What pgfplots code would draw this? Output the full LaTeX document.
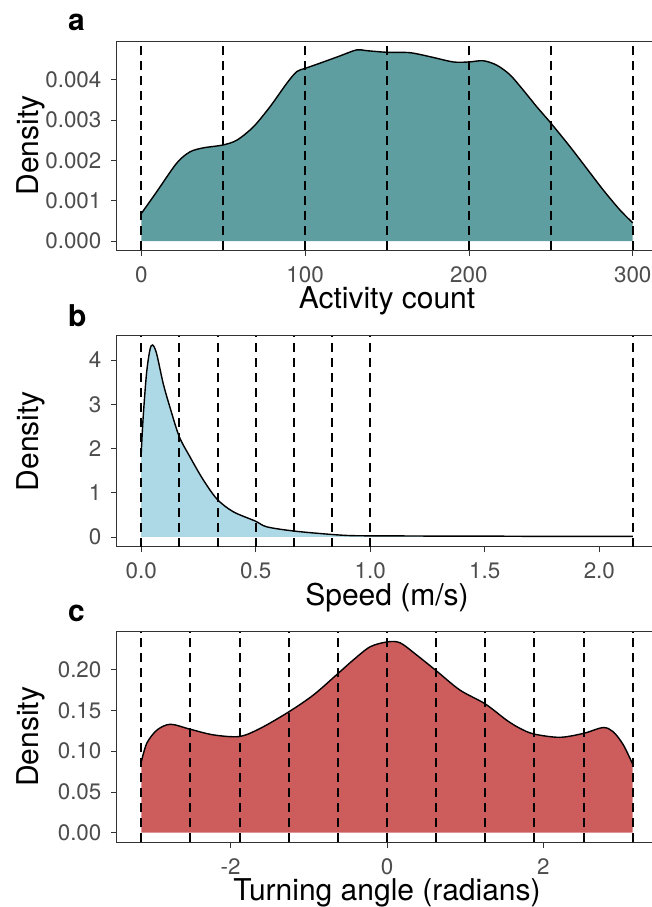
\documentclass[border=0pt]{standalone}
\usepackage{fontspec}
\setmainfont{TeX Gyre Heros}
\usepackage{pgfplots}
\pgfplotsset{compat=1.18}
\definecolor{cadet}{HTML}{5F9EA0}
\definecolor{lblue}{HTML}{ADD8E6}
\definecolor{ired}{HTML}{CD5C5C}
\definecolor{tickgray}{HTML}{4D4D4D}
\definecolor{bordergray}{HTML}{333333}
\pgfplotsset{
  panel/.style={
    scale only axis, width=540.6pt, height=210pt,
    anchor=south west,
    axis line style={draw=bordergray, line width=0.8pt},
    tick pos=left, tick align=outside, major tick length=5.7pt,
    major tick style={draw=bordergray, line width=0.8pt},
    tick label style={font=\fontsize{22.4}{26}\selectfont, text=tickgray, inner sep=0pt},
    xticklabel style={anchor=base, yshift=-26.5pt},
    yticklabel style={anchor=east, xshift=-9.4pt},
    xticklabel shift=0pt, yticklabel shift=0pt,
    label style={font=\fontsize{30}{34}\selectfont, inner sep=0pt},
    ylabel={Density},
    ylabel style={at={(axis description cs:-0.1448,0.5)}, anchor=base, rotate=0},
    xlabel style={at={(axis description cs:0.5,0)}, anchor=base, yshift=-58.5pt},
    /pgf/number format/assume math mode=true,
    scaled ticks=false,
    no markers,
  },
  vl/.style={black, line width=2pt, dash pattern=on 9pt off 6pt},
  dens/.style={black, line width=1.4pt, smooth, tension=0.5},
  densfill/.style={draw=none, smooth, tension=0.5},
}
\begin{document}
\begin{tikzpicture}
\useasboundingbox (0,0) rectangle (652pt,907pt);
% ---------------- panel a
\begin{axis}[panel, at={(116.7pt,656.7pt)}, height=209.3pt,
  xmin=-15, xmax=315, ymin=-0.00023, ymax=0.00496,
  xtick={0,100,200,300}, xticklabels={0,100,200,300},
  ytick={0,0.001,0.002,0.003,0.004},
  yticklabels={0.000,0.001,0.002,0.003,0.004},
  xlabel={Activity count}]
\addplot[densfill, fill=cadet] coordinates {
(0,0.00068) (9.4,0.00122) (21.6,0.00193) (29.7,0.00221) (37.9,0.00231)
(49.7,0.00238) (58.3,0.00250) (68.4,0.00283) (78.6,0.00333) (88.8,0.00391)
(94.9,0.00420) (100,0.00428) (109.1,0.00441) (121.3,0.00459) (131.5,0.00474)
(137.6,0.00472) (149.8,0.00468) (164,0.00467) (176.3,0.00457) (190.5,0.00444)
(200,0.00444) (208.8,0.00447) (217,0.00436) (225.1,0.00412) (233.2,0.00374)
(241.4,0.00333) (250.1,0.00292) (261.7,0.00234) (271.9,0.00180) (282.1,0.00126)
(292.2,0.00077) (300,0.00045)} \closedcycle;
\addplot[dens] coordinates {
(0,0.00068) (9.4,0.00122) (21.6,0.00193) (29.7,0.00221) (37.9,0.00231)
(49.7,0.00238) (58.3,0.00250) (68.4,0.00283) (78.6,0.00333) (88.8,0.00391)
(94.9,0.00420) (100,0.00428) (109.1,0.00441) (121.3,0.00459) (131.5,0.00474)
(137.6,0.00472) (149.8,0.00468) (164,0.00467) (176.3,0.00457) (190.5,0.00444)
(200,0.00444) (208.8,0.00447) (217,0.00436) (225.1,0.00412) (233.2,0.00374)
(241.4,0.00333) (250.1,0.00292) (261.7,0.00234) (271.9,0.00180) (282.1,0.00126)
(292.2,0.00077) (300,0.00045)};
\addplot[vl] coordinates {(0,-0.00023) (0,0.00496)};
\addplot[vl] coordinates {(50,-0.00023) (50,0.00496)};
\addplot[vl] coordinates {(100,-0.00023) (100,0.00496)};
\addplot[vl] coordinates {(150,-0.00023) (150,0.00496)};
\addplot[vl] coordinates {(200,-0.00023) (200,0.00496)};
\addplot[vl] coordinates {(250,-0.00023) (250,0.00496)};
\addplot[vl] coordinates {(300,-0.00023) (300,0.00496)};
\end{axis}
% ---------------- panel b
\begin{axis}[panel, at={(116.7pt,360.4pt)}, height=210.9pt,
  xmin=-0.107, xmax=2.253, ymin=-0.217, ymax=4.55,
  xtick={0,0.5,1,1.5,2}, xticklabels={0.0,0.5,1.0,1.5,2.0},
  ytick={0,1,2,3,4}, yticklabels={0,1,2,3,4},
  xlabel={Speed (m/s)}]
\addplot[densfill, fill=lblue] coordinates {
(0,1.89) (0.0087,2.72) (0.0233,3.70) (0.038,4.23) (0.050,4.34) (0.067,4.15)
(0.096,3.47) (0.125,2.94) (0.166,2.27) (0.213,1.81) (0.271,1.29) (0.332,0.85)
(0.402,0.57) (0.498,0.36) (0.548,0.23) (0.664,0.136) (0.824,0.06) (0.926,0.03)
(1.1,0.025) (1.3,0.02) (1.5,0.02) (1.7,0.015) (1.9,0.015) (2.146,0.015)} \closedcycle;
\addplot[dens] coordinates {
(0,1.89) (0.0087,2.72) (0.0233,3.70) (0.038,4.23) (0.050,4.34) (0.067,4.15)
(0.096,3.47) (0.125,2.94) (0.166,2.27) (0.213,1.81) (0.271,1.29) (0.332,0.85)
(0.402,0.57) (0.498,0.36) (0.548,0.23) (0.664,0.136) (0.824,0.06) (0.926,0.03)
(1.1,0.025) (1.3,0.02) (1.5,0.02) (1.7,0.015) (1.9,0.015) (2.146,0.015)};
\addplot[vl] coordinates {(0,-0.217) (0,4.55)};
\addplot[vl] coordinates {(0.16667,-0.217) (0.16667,4.55)};
\addplot[vl] coordinates {(0.33333,-0.217) (0.33333,4.55)};
\addplot[vl] coordinates {(0.5,-0.217) (0.5,4.55)};
\addplot[vl] coordinates {(0.66667,-0.217) (0.66667,4.55)};
\addplot[vl] coordinates {(0.83333,-0.217) (0.83333,4.55)};
\addplot[vl] coordinates {(1,-0.217) (1,4.55)};
\addplot[vl] coordinates {(2.146,-0.217) (2.146,4.55)};
\end{axis}
% ---------------- panel c
\begin{axis}[panel, at={(116.7pt,64.7pt)}, height=210.7pt,
  xmin=-3.456, xmax=3.456, ymin=-0.0118, ymax=0.2467,
  xtick={-2,0,2}, xticklabels={-2,0,2},
  ytick={0,0.05,0.1,0.15,0.2}, yticklabels={0.00,0.05,0.10,0.15,0.20},
  xlabel={Turning angle (radians)}]
\addplot[densfill, fill=ired] coordinates {
(-3.1416,0.087) (-3.07,0.110) (-2.94,0.126) (-2.77,0.133) (-2.52,0.127)
(-2.22,0.120) (-1.886,0.118) (-1.62,0.128) (-1.26,0.148) (-0.94,0.169)
(-0.63,0.195) (-0.43,0.212) (-0.217,0.228) (0,0.234) (0.166,0.233)
(0.379,0.218) (0.626,0.199) (0.932,0.175) (1.256,0.158) (1.53,0.138)
(1.70,0.128) (1.88,0.121) (2.21,0.117) (2.52,0.122) (2.76,0.129)
(2.89,0.124) (3.02,0.108) (3.1416,0.084)} \closedcycle;
\addplot[dens] coordinates {
(-3.1416,0.087) (-3.07,0.110) (-2.94,0.126) (-2.77,0.133) (-2.52,0.127)
(-2.22,0.120) (-1.886,0.118) (-1.62,0.128) (-1.26,0.148) (-0.94,0.169)
(-0.63,0.195) (-0.43,0.212) (-0.217,0.228) (0,0.234) (0.166,0.233)
(0.379,0.218) (0.626,0.199) (0.932,0.175) (1.256,0.158) (1.53,0.138)
(1.70,0.128) (1.88,0.121) (2.21,0.117) (2.52,0.122) (2.76,0.129)
(2.89,0.124) (3.02,0.108) (3.1416,0.084)};
\addplot[vl] coordinates {(-3.1416,-0.0118) (-3.1416,0.2467)};
\addplot[vl] coordinates {(-2.5133,-0.0118) (-2.5133,0.2467)};
\addplot[vl] coordinates {(-1.885,-0.0118) (-1.885,0.2467)};
\addplot[vl] coordinates {(-1.2566,-0.0118) (-1.2566,0.2467)};
\addplot[vl] coordinates {(-0.6283,-0.0118) (-0.6283,0.2467)};
\addplot[vl] coordinates {(0,-0.0118) (0,0.2467)};
\addplot[vl] coordinates {(0.6283,-0.0118) (0.6283,0.2467)};
\addplot[vl] coordinates {(1.2566,-0.0118) (1.2566,0.2467)};
\addplot[vl] coordinates {(1.885,-0.0118) (1.885,0.2467)};
\addplot[vl] coordinates {(2.5133,-0.0118) (2.5133,0.2467)};
\addplot[vl] coordinates {(3.1416,-0.0118) (3.1416,0.2467)};
\end{axis}
\node[anchor=base west, inner sep=0pt, font=\fontsize{30}{34}\selectfont\bfseries] at (68pt,876pt) {a};
\node[anchor=base west, inner sep=0pt, font=\fontsize{30}{34}\selectfont\bfseries] at (68pt,580.3pt) {b};
\node[anchor=base west, inner sep=0pt, font=\fontsize{30}{34}\selectfont\bfseries] at (68pt,285.3pt) {c};
\end{tikzpicture}
\end{document}
